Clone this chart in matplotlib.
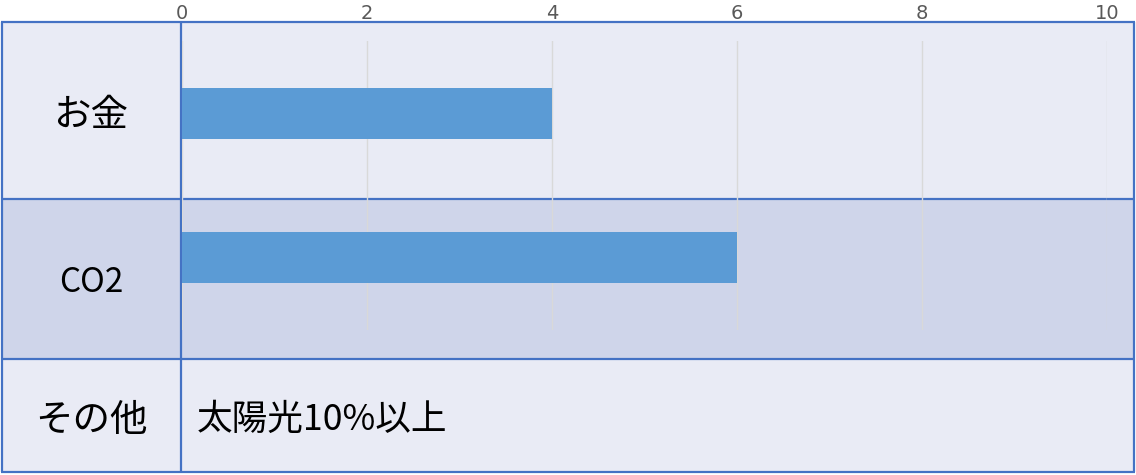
import matplotlib
matplotlib.use('Agg')
import matplotlib.pyplot as plt
from matplotlib.patches import Rectangle

plt.rcParams['font.family'] = ['Noto Sans CJK JP', 'DejaVu Sans']

# data
categories = ['お金', 'CO2']
values = [4, 6]
other_label = 'その他'
other_text = '太陽光10%以上'
xticks = [0, 2, 4, 6, 8, 10]

light = '#E9EBF5'
dark = '#CFD5EA'
border = '#4472C4'
bar_color = '#5B9BD5'

W, H = 1136, 475
fig = plt.figure(figsize=(W / 100, H / 100), dpi=100)

# table background, pixel coords
bg = fig.add_axes([0, 0, 1, 1])
bg.set_xlim(0, W)
bg.set_ylim(H, 0)
bg.axis('off')

rows = [(22, 199, light), (199, 359, dark), (359, 472, light)]
for top, bot, c in rows:
    bg.add_patch(Rectangle((1, top), 1134, bot - top, facecolor=c, edgecolor='none'))
for y in [22, 199, 359, 472]:
    bg.plot([1, 1135], [y, y], color=border, lw=1.6, solid_capstyle='butt')
for x in [1.5, 181, 1134]:
    bg.plot([x, x], [22, 472], color=border, lw=1.6, solid_capstyle='butt')

# row labels
label_y = [115, 282]
for lab, yy in zip(categories, label_y):
    fs = 24 if lab.isascii() else 27
    bg.text(91, yy, lab, ha='center', va='center', fontsize=fs, color='black')
bg.text(91, 420, other_label, ha='center', va='center', fontsize=27, color='black')
bg.text(197, 420, other_text, ha='left', va='center', fontsize=25.7, color='black')

# bar chart
ax = fig.add_axes([182 / W, (H - 330) / H, (1107 - 182) / W, (330 - 41) / H])
ax.set_facecolor('none')
ax.barh(range(len(categories)), values, height=0.35, color=bar_color, zorder=3)
ax.set_xlim(0, 10)
ax.set_ylim(len(categories) - 0.5, -0.5)
ax.set_yticks([])
ax.set_xticks(xticks)
ax.set_xticklabels([str(t) for t in xticks], family='DejaVu Sans')
ax.tick_params(axis='x', top=True, labeltop=True, bottom=False, labelbottom=False,
               length=0, pad=13, labelsize=14, labelcolor='#595959')
ax.grid(axis='x', color='#D9D9D9', lw=1, zorder=0)
for s in ax.spines.values():
    s.set_visible(False)

fig.savefig('out.png', dpi=100, facecolor='white')
